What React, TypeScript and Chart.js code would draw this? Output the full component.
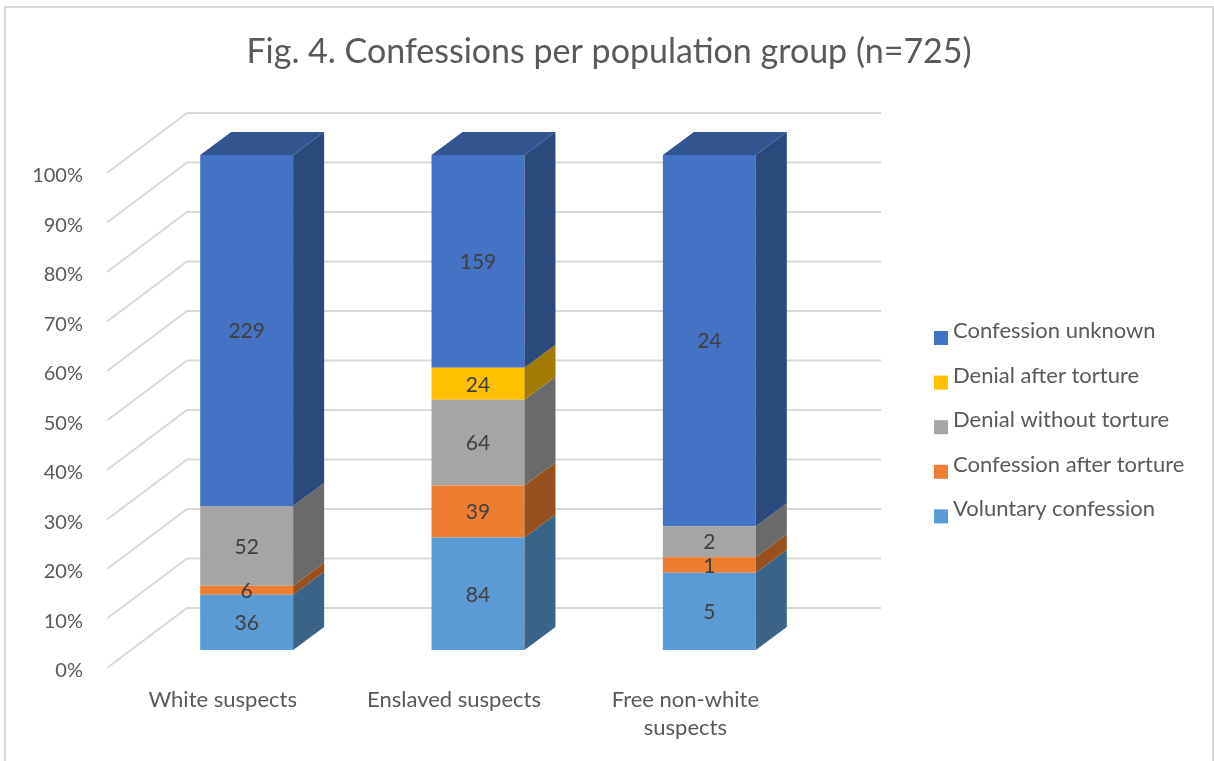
import { useEffect, useRef } from 'react';
import { Chart, registerables } from 'chart.js';

Chart.register(...registerables);

// Population groups (x axis)
const categories: string[][] = [['White suspects'], ['Enslaved suspects'], ['Free non-white', 'suspects']];

// Counts per outcome, one entry per population group
const voluntaryConfession = [36, 84, 5];
const confessionAfterTorture = [6, 39, 1];
const denialWithoutTorture = [52, 64, 2];
const denialAfterTorture = [0, 24, 0];
const confessionUnknown = [229, 159, 24];

const seriesNames = [
  'Voluntary confession',
  'Confession after torture',
  'Denial without torture',
  'Denial after torture',
  'Confession unknown',
];
const seriesCounts = [
  voluntaryConfession,
  confessionAfterTorture,
  denialWithoutTorture,
  denialAfterTorture,
  confessionUnknown,
];
const seriesColors = ['#5B9BD5', '#ED7D31', '#A5A5A5', '#FFC000', '#4472C4'];

const percentTicks = [0, 10, 20, 30, 40, 50, 60, 70, 80, 90, 100];

const TITLE = 'Fig. 4. Confessions per population group (n=725)';
const FONT = 'Lato, "Open Sans", sans-serif';
const TEXT = '#595959';

// 3D projection offsets (pixels) relative to a bar's front face
const DEPTH = { dx: 31, dy: -23 };
const WALL = { dx: 56, dy: -42 };
const FLOOR_FRONT = { dx: -24, dy: 18 };

function shade(hex: string, f: number): string {
  const n = parseInt(hex.slice(1), 16);
  const r = Math.round(((n >> 16) & 255) * f);
  const g = Math.round(((n >> 8) & 255) * f);
  const b = Math.round((n & 255) * f);
  return `rgb(${r},${g},${b})`;
}

const totals = categories.map((_, i) => seriesCounts.reduce((s, arr) => s + arr[i], 0));

const depthPlugin = {
  id: 'depth3d',
  beforeDraw(chart: any) {
    const { ctx } = chart;
    ctx.save();
    ctx.fillStyle = '#ffffff';
    ctx.fillRect(0, 0, chart.width, chart.height);
    ctx.strokeStyle = '#d9d9d9';
    ctx.lineWidth = 2;
    ctx.strokeRect(5, 7, 1208, 780);
    // chart title, centred on the whole chart box
    ctx.fillStyle = TEXT;
    ctx.font = `34px ${FONT}`;
    ctx.textAlign = 'center';
    ctx.textBaseline = 'middle';
    ctx.fillText(TITLE, 609, 52);
    ctx.restore();
  },
  beforeDatasetsDraw(chart: any) {
    const { ctx, chartArea, scales } = chart;
    const y = scales.y;
    ctx.save();
    ctx.strokeStyle = '#d9d9d9';
    ctx.lineWidth = 2;
    for (const t of percentTicks) {
      const py = y.getPixelForValue(t);
      ctx.beginPath();
      ctx.moveTo(chartArea.left + FLOOR_FRONT.dx, py + FLOOR_FRONT.dy);
      ctx.lineTo(chartArea.left + WALL.dx, py + WALL.dy);
      ctx.lineTo(chartArea.right + WALL.dx, py + WALL.dy);
      ctx.stroke();
    }
    ctx.restore();
  },
  afterDatasetsDraw(chart: any) {
    const { ctx } = chart;
    const nDs = chart.data.datasets.length;
    ctx.save();
    for (let i = 0; i < categories.length; i++) {
      let topBar: any = null;
      let topColor = '';
      for (let d = 0; d < nDs; d++) {
        if (seriesCounts[d][i] === 0) continue;
        const bar = chart.getDatasetMeta(d).data[i];
        const { x, y, base, width } = bar.getProps(['x', 'y', 'base', 'width'], true);
        const right = x + width / 2;
        const top = Math.min(y, base);
        const bottom = Math.max(y, base);
        ctx.fillStyle = shade(seriesColors[d], 0.64);
        ctx.beginPath();
        ctx.moveTo(right, top);
        ctx.lineTo(right + DEPTH.dx, top + DEPTH.dy);
        ctx.lineTo(right + DEPTH.dx, bottom + DEPTH.dy);
        ctx.lineTo(right, bottom);
        ctx.closePath();
        ctx.fill();
        topBar = { x, top, width };
        topColor = seriesColors[d];
      }
      if (topBar) {
        const left = topBar.x - topBar.width / 2;
        const right = topBar.x + topBar.width / 2;
        ctx.fillStyle = shade(topColor, 0.74);
        ctx.beginPath();
        ctx.moveTo(left, topBar.top);
        ctx.lineTo(left + DEPTH.dx, topBar.top + DEPTH.dy);
        ctx.lineTo(right + DEPTH.dx, topBar.top + DEPTH.dy);
        ctx.lineTo(right, topBar.top);
        ctx.closePath();
        ctx.fill();
      }
    }
    // value labels on the front faces
    ctx.fillStyle = '#404040';
    ctx.font = `21px ${FONT}`;
    ctx.textAlign = 'center';
    ctx.textBaseline = 'middle';
    for (let d = 0; d < nDs; d++) {
      const meta = chart.getDatasetMeta(d);
      meta.data.forEach((bar: any, i: number) => {
        const v = seriesCounts[d][i];
        if (!v) return;
        const { x, y, base } = bar.getProps(['x', 'y', 'base'], true);
        ctx.fillText(String(v), x, (y + base) / 2 + 1);
      });
    }
    ctx.restore();
  },
  afterDraw(chart: any) {
    const { ctx } = chart;
    const ds = chart.data.datasets;
    ctx.save();
    ctx.font = `22px ${FONT}`;
    ctx.textAlign = 'left';
    ctx.textBaseline = 'alphabetic';
    const x0 = 934;
    const y0 = 338;
    const step = 44.6;
    for (let k = 0; k < ds.length; k++) {
      const d = ds.length - 1 - k;
      const base = y0 + k * step;
      ctx.fillStyle = ds[d].backgroundColor;
      ctx.fillRect(x0, base - 7, 14, 14);
      ctx.fillStyle = TEXT;
      ctx.fillText(ds[d].label, x0 + 19, base);
    }
    ctx.restore();
  },
};

export default function App() {
  const canvasRef = useRef<HTMLCanvasElement | null>(null);

  useEffect(() => {
    const canvas = canvasRef.current;
    if (!canvas) return;
    const chart = new Chart(canvas, {
      type: 'bar',
      data: {
        labels: categories,
        datasets: seriesNames.map((name, d) => ({
          label: name,
          data: seriesCounts[d].map((v, i) => (v / totals[i]) * 100),
          backgroundColor: seriesColors[d],
          borderWidth: 0,
          categoryPercentage: 1,
          barPercentage: 0.4017,
        })),
      },
      options: {
        responsive: false,
        animation: false,
        events: [],
        layout: { padding: { left: 0, right: 389, top: 155, bottom: 0 } },
        plugins: {
          legend: { display: false },
          tooltip: { enabled: false },
          title: { display: false },
        },
        scales: {
          x: {
            stacked: true,
            grid: { display: false, drawTicks: false },
            border: { display: false },
            ticks: {
              color: TEXT,
              font: { family: FONT, size: 22, lineHeight: 1.27 },
              padding: 36,
              labelOffset: FLOOR_FRONT.dx,
              maxRotation: 0,
              autoSkip: false,
            },
            afterFit(scale: any) {
              scale.height = 111;
            },
          },
          y: {
            stacked: true,
            min: 0,
            max: 100,
            grid: { display: false, drawTicks: false },
            border: { display: false },
            ticks: {
              stepSize: 10,
              color: TEXT,
              font: { family: FONT, size: 20 },
              padding: 48,
              labelOffset: 21,
              callback: (v: any) => `${v}%`,
            },
            afterFit(scale: any) {
              scale.width = 131;
            },
          },
        },
      },
      plugins: [depthPlugin],
    });
    return () => chart.destroy();
  }, []);

  return (
    <div style={{ position: 'fixed', left: 0, top: 0, width: 1214, height: 761, background: '#fff' }}>
      <canvas ref={canvasRef} width={1214} height={761} />
    </div>
  );
}
